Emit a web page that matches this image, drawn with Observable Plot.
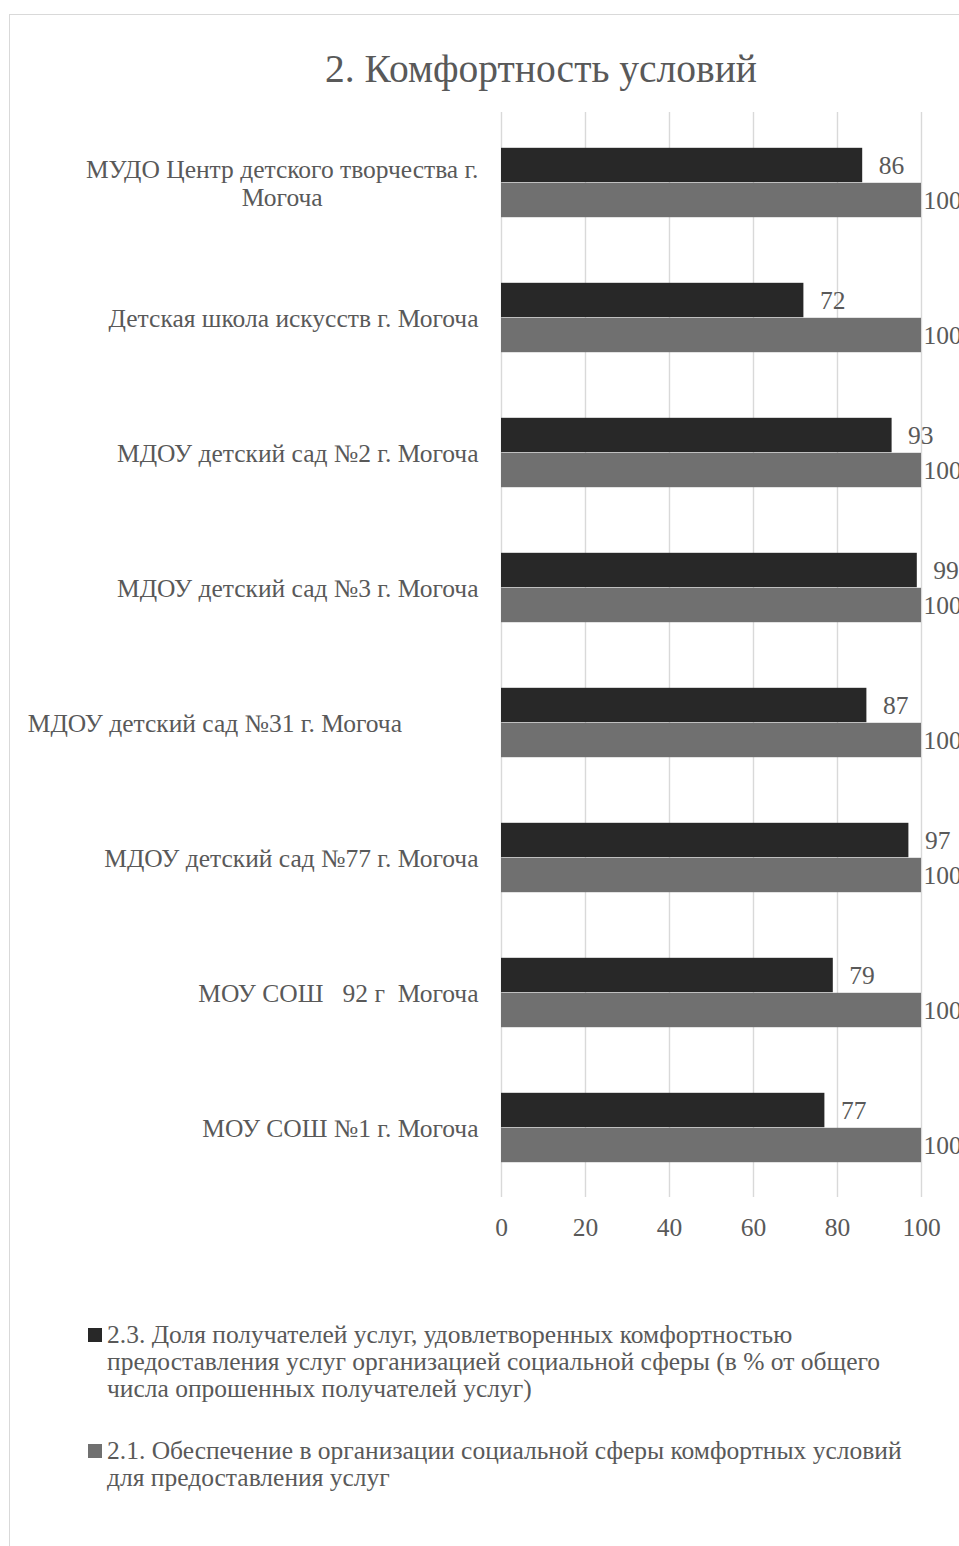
<!DOCTYPE html>
<html>
<head>
<meta charset="utf-8">
<script src="https://cdn.jsdelivr.net/npm/d3@7"></script>
<script src="https://cdn.jsdelivr.net/npm/@observablehq/plot@0.6"></script>
<style>
  html, body { margin: 0; padding: 0; background: #fff; overflow: hidden; }
  body { width: 959px; height: 1546px; position: relative; font-family: "Liberation Serif", serif; color: #595959; }
  #frame { position: absolute; left: 9px; top: 14px; width: 1300px; height: 1700px; border-left: 1px solid #d9d9d9; border-top: 1px solid #d9d9d9; }
  #title { position: absolute; left: 0; top: 50px; width: 1082px; text-align: center; font-size: 39.5px; line-height: 39.5px; white-space: nowrap; }
  #chart { position: absolute; left: 0; top: 100px; }
  .leg { position: absolute; left: 107px; font-size: 25.5px; line-height: 27px; white-space: pre; }
  .sw { position: absolute; left: -19px; top: 7px; width: 14px; height: 14px; }
</style>
</head>
<body>
<div id="frame"></div>
<div id="title"></div>
<div id="chart"></div>
<div id="legend"></div>
<script>
const NB = "\u00a0";
const chartTitle = "2. Комфортность условий";
const categories = [
  "МУДО Центр детского творчества г.\nМогоча",
  "Детская школа искусств г. Могоча",
  "МДОУ детский сад №2 г. Могоча",
  "МДОУ детский сад №3 г. Могоча",
  "МДОУ детский сад №31 г. Могоча" + NB.repeat(12),
  "МДОУ детский сад №77 г. Могоча",
  "МОУ СОШ" + NB + NB + " 92 г" + NB + " Могоча",
  "МОУ СОШ №1 г. Могоча"
];
const seriesNames = [
  "2.3. Доля получателей услуг, удовлетворенных комфортностью\nпредоставления услуг организацией социальной сферы (в % от общего\nчисла опрошенных получателей услуг)",
  "2.1. Обеспечение в организации социальной сферы комфортных условий\nдля предоставления услуг"
];
const satisfaction = [86, 72, 93, 99, 87, 97, 79, 77];
const provision = [100, 100, 100, 100, 100, 100, 100, 100];
const xTicks = [0, 20, 40, 60, 80, 100];
const colors = ["#282828", "#707070"];

const rows = categories.map((c, i) => ({category: c, a: satisfaction[i], b: provision[i]}));

document.getElementById("title").textContent = chartTitle;

const FS = 25.5;
const ctx = document.createElement("canvas").getContext("2d");
ctx.font = FS + "px 'Liberation Serif'";
const maxW = s => Math.max(...s.split("\n").map(l => ctx.measureText(l).width));

const labelMarks = categories.map(c => Plot.text([c], {
  y: d => d, text: d => d, frameAnchor: "left", textAnchor: "middle",
  lineAnchor: "middle", lineHeight: 28 / FS, dx: -(23 + maxW(c) / 2)
}));

const chart = Plot.plot({
  width: 959,
  height: 1157,
  marginTop: 12,
  marginBottom: 60,
  marginLeft: 501,
  marginRight: 38,
  style: {fontFamily: "'Liberation Serif', serif", fontSize: FS + "px", color: "#595959", background: "transparent", overflow: "visible"},
  x: {domain: [0, 100], ticks: xTicks, tickSize: 0, tickPadding: 20, label: null},
  y: {domain: categories, padding: 0, axis: null},
  marks: [
    Plot.ruleX(xTicks, {stroke: "#d9d9d9", strokeWidth: 1.4}),
    Plot.barX(rows, {x: "a", y: "category", fill: colors[0], insetTop: 32.8, insetBottom: 67.8}),
    Plot.barX(rows, {x: "b", y: "category", fill: colors[1], insetTop: 67.8, insetBottom: 32.8}),
    Plot.text(rows, {x: "a", y: "category", text: d => String(d.a), dy: -17.5, dx: 16, textAnchor: "start", lineAnchor: "middle"}),
    Plot.text(rows, {x: "b", y: "category", text: d => String(d.b), dy: 17.5, dx: 2, textAnchor: "start", lineAnchor: "middle"}),
    ...labelMarks
  ]
});
document.getElementById("chart").appendChild(chart);

const legendTops = [1321, 1437];
const legend = document.getElementById("legend");
seriesNames.forEach((name, i) => {
  const item = document.createElement("div");
  item.className = "leg";
  item.style.top = legendTops[i] + "px";
  item.textContent = name;
  const sw = document.createElement("span");
  sw.className = "sw";
  sw.style.background = colors[i];
  item.appendChild(sw);
  legend.appendChild(item);
});
</script>
</body>
</html>
